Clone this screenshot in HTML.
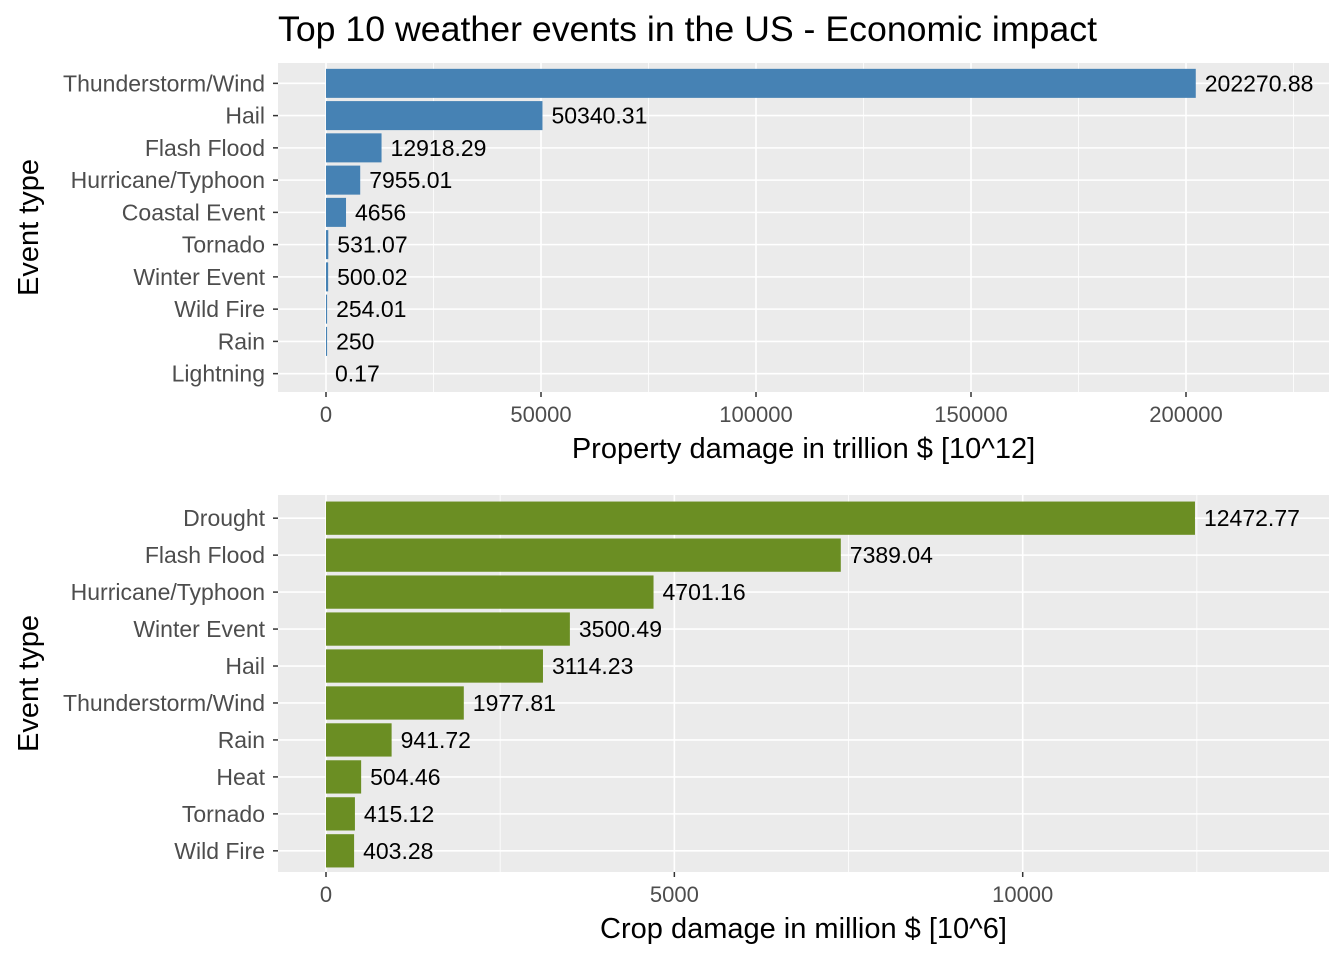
<!DOCTYPE html>
<html><head><meta charset="utf-8"><style>
body{margin:0;background:#fff;}
svg text{font-family:"Liberation Sans",sans-serif;}
</style></head><body>
<svg id="c" width="1344" height="960" xmlns="http://www.w3.org/2000/svg">
<text x="278" y="41" font-size="35" fill="#000" textLength="819" lengthAdjust="spacingAndGlyphs">Top 10 weather events in the US - Economic impact</text>
</svg>
<script>
const propCats=["Thunderstorm/Wind","Hail","Flash Flood","Hurricane/Typhoon","Coastal Event","Tornado","Winter Event","Wild Fire","Rain","Lightning"];
const propVals=[202270.88,50340.31,12918.29,7955.01,4656,531.07,500.02,254.01,250,0.17];
const propLabels=["202270.88","50340.31","12918.29","7955.01","4656","531.07","500.02","254.01","250","0.17"];
const propTicks=[0,50000,100000,150000,200000];
const cropCats=["Drought","Flash Flood","Hurricane/Typhoon","Winter Event","Hail","Thunderstorm/Wind","Rain","Heat","Tornado","Wild Fire"];
const cropVals=[12472.77,7389.04,4701.16,3500.49,3114.23,1977.81,941.72,504.46,415.12,403.28];
const cropLabels=["12472.77","7389.04","4701.16","3500.49","3114.23","1977.81","941.72","504.46","415.12","403.28"];
const cropTicks=[0,5000,10000];

const svg=document.getElementById('c');
const NS="http://www.w3.org/2000/svg";
function mk(tag,attrs,parent){const e=document.createElementNS(NS,tag);for(const k in attrs)e.setAttribute(k,attrs[k]);(parent||svg).appendChild(e);return e;}

function panel(p){
  const {top,bottom,left,right,x0,scale,cats,vals,labels,ticks,color,xtitle,name}=p;
  const g=mk('g',{});
  
  
  const bg=mk('rect',{x:left,y:top,width:right-left,height:bottom-top,fill:'#EBEBEB'},g);
  
  
  const X=v=>x0+v*scale;
  const step=ticks[1]-ticks[0];
  for(let v=-step/2;X(v)<=right;v+=step){if(X(v)>=left){const l=mk('line',{x1:X(v),x2:X(v),y1:top,y2:bottom,stroke:'#fff','stroke-width':0.8},g);
    
    }}
  const n=cats.length;const rowH=(bottom-top)/(n+0.2);
  const Y=i=>top+(0.6+i)*rowH+1;
  cats.forEach((c,i)=>{const l=mk('line',{x1:left,x2:right,y1:Y(i),y2:Y(i),stroke:'#fff','stroke-width':1.6},g);
    
    });
  ticks.forEach(t=>{const l=mk('line',{x1:X(t),x2:X(t),y1:top,y2:bottom,stroke:'#fff','stroke-width':1.6},g);
    
    
    const tk=mk('line',{x1:X(t),x2:X(t),y1:bottom,y2:bottom+5,stroke:'#333','stroke-width':1.5},g);
    
    
    const tx=mk('text',{x:X(t),y:bottom+30,'text-anchor':'middle','font-size':22,fill:'#4D4D4D'},g);
    tx.textContent=t;
    
    });
  cats.forEach((c,i)=>{
    const bh=rowH*0.9;
    const r=mk('rect',{x:X(0),y:Y(i)-bh/2,width:Math.max(vals[i]*scale,0),height:bh,fill:color},g);
    
    
    const vt=mk('text',{x:X(vals[i])+9,y:Y(i)+8,'font-size':23,fill:'#000'},g);
    vt.textContent=labels[i];
    
    
    const tk=mk('line',{x1:left-5,x2:left,y1:Y(i),y2:Y(i),stroke:'#333','stroke-width':1.5},g);
    
    
    const ct=mk('text',{x:left-13,y:Y(i)+8,'text-anchor':'end','font-size':23,fill:'#4D4D4D'},g);
    ct.textContent=c;
    
    
  });
  const xt=mk('text',{x:(left+right)/2,y:bottom+66,'text-anchor':'middle','font-size':29,fill:'#000'},g);
  xt.textContent=xtitle;
  
  
  const cy=(top+bottom)/2;
  const yt=mk('text',{x:38,y:cy,'text-anchor':'middle','font-size':29,fill:'#000',transform:`rotate(-90 38 ${cy})`},g);
  yt.textContent='Event type';
  
  
}
panel({top:63,bottom:392,left:278,right:1329,x0:326,scale:0.0043,cats:propCats,vals:propVals,labels:propLabels,ticks:propTicks,color:'#4682B4',xtitle:'Property damage in trillion $ [10^12]',name:'property-panel'});
panel({top:495,bottom:872,left:278,right:1329,x0:326,scale:0.06967,cats:cropCats,vals:cropVals,labels:cropLabels,ticks:cropTicks,color:'#6B8E23',xtitle:'Crop damage in million $ [10^6]',name:'crop-panel'});
</script>
</body></html>
